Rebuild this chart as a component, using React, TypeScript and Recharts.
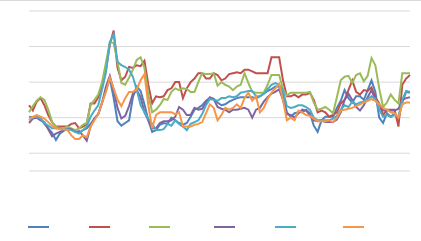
import { LineChart, Line, XAxis, YAxis, CartesianGrid } from 'recharts'

const seriesNames = ['Series 1', 'Series 2', 'Series 3', 'Series 4', 'Series 5', 'Series 6']
const colors = ['#4F81BD', '#C0504D', '#9BBB59', '#8064A2', '#4BACC6', '#F79646']
const yTicks = [0, 10, 20, 30, 40, 50, 60, 70, 80, 90]

const blue = [
  30.5, 30, 30.5, 29.5, 26.5, 24, 21.5, 17.5, 21, 22.5,
  24, 23.5, 22, 21.5, 23, 24, 26.5, 29.5, 32, 38.5,
  45.5, 52, 41, 28, 25.5, 27, 28.5, 41.5, 47.5, 45,
  37.5, 28.5, 22, 23, 26, 27, 26.5, 30, 28.5, 27,
  26, 27, 30.5, 34.5, 35.5, 37, 39.5, 41, 40.5, 38.5,
  37, 37.5, 39, 40, 41, 41.5, 41.5, 41.5, 41.5, 41,
  42, 43.5, 45, 46, 47.5, 47.5, 43, 33, 30.5, 32.5,
  33, 33, 34.5, 32.5, 25.5, 22, 28.5, 30.5, 30.5, 30.5,
  35.5, 39.5, 45.5, 41, 38.5, 42, 42, 40, 45.5, 51,
  44.5, 30, 27, 32.5, 30.5, 32.5, 29, 38.5, 44.5, 44,
]

const red = [
  37, 34, 39, 41, 37, 31.5, 27.5, 25, 25, 25,
  25, 26.5, 27, 24, 25, 26.5, 38, 38, 41.5, 47,
  57, 71, 79, 58, 51, 53, 58.5, 58, 59.5, 59,
  62, 48.5, 38, 42, 41.5, 42, 45.5, 46.5, 50, 50,
  41, 46.5, 50, 52, 55, 55, 52, 52, 55, 54,
  51, 52, 54.5, 55, 55.5, 55, 57, 57, 56, 55,
  55, 55, 55, 64, 64, 64, 51, 42, 42, 43,
  41.5, 43, 43, 44, 40, 33, 34, 33, 30.5, 31.5,
  33, 38, 40, 45.5, 51, 44.5, 43, 45.5, 45, 47,
  41.5, 38, 31.5, 34.5, 34.5, 34.5, 25, 48.5, 52, 54,
]

const green = [
  33, 36.5, 39.5, 41.5, 40, 34.5, 27.5, 25, 24, 24,
  25, 24, 23, 24, 26, 27, 37, 40, 43, 50,
  61, 72.5, 72, 61.5, 49.5, 48.5, 52.5, 57, 62.5, 64,
  58, 43, 33, 34.5, 37, 40.5, 40, 44.5, 46.5, 45.5,
  46.5, 46, 44.5, 44.5, 50, 55, 54.5, 54.5, 55, 48,
  50, 48.5, 47.5, 45.5, 47.5, 48.5, 55, 49.5, 44.5, 44,
  44, 44, 48.5, 54, 54, 54, 46, 42.5, 44, 44,
  44, 44, 44, 44.5, 38.5, 34.5, 35, 36, 34.5, 32.5,
  41.5, 51, 53, 53.5, 49.5, 54, 55, 50.5, 53.5, 63.5,
  59.5, 46.5, 36, 38.5, 43, 40, 38, 55, 55, 55,
]

const purple = [
  27, 29.5, 30, 28.5, 27.5, 23.5, 19.5, 21, 22, 23,
  23.5, 23.5, 22, 22.5, 20, 17, 25, 29.5, 32, 38.5,
  47.5, 53.5, 45.5, 35.5, 29.5, 31, 36.5, 43.5, 45.5, 41.5,
  33, 28.5, 24, 24, 27, 28, 28, 28.5, 30.5, 36,
  34.5, 31.5, 31.5, 35.5, 34.5, 35, 38.5, 41.5, 40.5, 36,
  35, 34.5, 33, 34.5, 34.5, 35, 35.5, 34.5, 30, 34.5,
  35.5, 39, 41.5, 43.5, 44.5, 46, 40, 32, 31.5, 30,
  32.5, 34.5, 34, 31.5, 28.5, 28, 28.5, 27.5, 27.5, 27.5,
  29, 33, 40, 43.5, 40, 36, 34, 37, 41.5, 45.5,
  40, 37.5, 34, 34, 34, 34, 35, 40, 41, 41.5,
]

const cyan = [
  30.5, 30, 30.5, 29.5, 27, 25.5, 24, 24, 24, 23.5,
  23.5, 23, 22, 21, 23, 25, 30.5, 34, 37, 46,
  55.5, 72.5, 77, 61.5, 59.5, 58.5, 57, 53, 45.5, 37,
  33, 29.5, 26.5, 23, 23, 23.5, 26.5, 25.5, 28.5, 26.5,
  25, 23, 26.5, 27.5, 28.5, 32, 37, 40.5, 40, 39.5,
  41, 41, 42, 41.5, 42, 44, 44.5, 45, 45, 42,
  42, 43.5, 46, 48.5, 49.5, 48.5, 45.5, 36.5, 35.5, 36,
  37, 37, 36, 34.5, 30, 28.5, 28.5, 28.5, 28.5, 29.5,
  31, 34.5, 37, 36, 39, 37.5, 38.5, 39, 40.5, 42,
  40.5, 34.5, 30.5, 31.5, 30.5, 31.5, 30.5, 40, 45, 44.5,
]

const orange = [
  28.5, 30.5, 31.5, 30.5, 29.5, 27.5, 25.5, 24, 23.5, 23.5,
  23, 20, 18, 18, 20, 19, 25, 28.5, 32, 38.5,
  44.5, 52.5, 46.5, 40, 36.5, 41, 44.5, 44.5, 46, 51,
  54.5, 37, 24, 31.5, 33, 33, 33, 33, 32, 33,
  25, 25, 25, 26, 26.5, 27.5, 32.5, 37.5, 35.5, 28.5,
  31.5, 35.5, 34.5, 35.5, 37.5, 35.5, 41, 44, 39.5, 42,
  33, 35.5, 40.5, 44, 46.5, 49, 40, 28.5, 30, 28.5,
  34, 33, 31.5, 31, 29.5, 28, 28, 28, 28.5, 27.5,
  30, 34, 34.5, 35, 35.5, 36.5, 37.5, 38.5, 39.5, 40.5,
  39.5, 37.5, 35.5, 34.5, 33, 32.5, 30, 37.5, 38.5, 38.5,
]

const seriesValues = [blue, red, green, purple, cyan, orange]

const data = blue.map((_, i) => {
  const row: Record<string, number> = { idx: i + 1 }
  seriesNames.forEach((name, s) => {
    row[name] = seriesValues[s][i]
  })
  return row
})

const legendX = [28, 89, 149, 214, 275, 343]

export default function App() {
  return (
    <div
      style={{
        position: 'fixed',
        left: 0,
        top: 0,
        width: 421,
        height: 241,
        background: '#fff',
        borderTop: '1px solid #d9d9d9',
        boxSizing: 'border-box',
      }}
    >
      <LineChart
        width={421}
        height={240}
        data={data}
        margin={{ top: 10, right: 11, bottom: 70, left: 29 }}
      >
        <CartesianGrid vertical={false} stroke="#d9d9d9" />
        <XAxis dataKey="idx" hide />
        <YAxis hide domain={[0, 90]} ticks={yTicks} />
        {seriesNames.map((name, s) => (
          <Line
            key={name}
            type="linear"
            dataKey={name}
            stroke={colors[s]}
            strokeWidth={2}
            dot={false}
            isAnimationActive={false}
          />
        ))}
      </LineChart>
      <svg width={421} height={241} style={{ position: 'absolute', left: 0, top: -1 }}>
        {seriesNames.map((name, s) => (
          <line
            key={name}
            x1={legendX[s]}
            x2={legendX[s] + 21}
            y1={227}
            y2={227}
            stroke={colors[s]}
            strokeWidth={2}
          />
        ))}
      </svg>
    </div>
  )
}
